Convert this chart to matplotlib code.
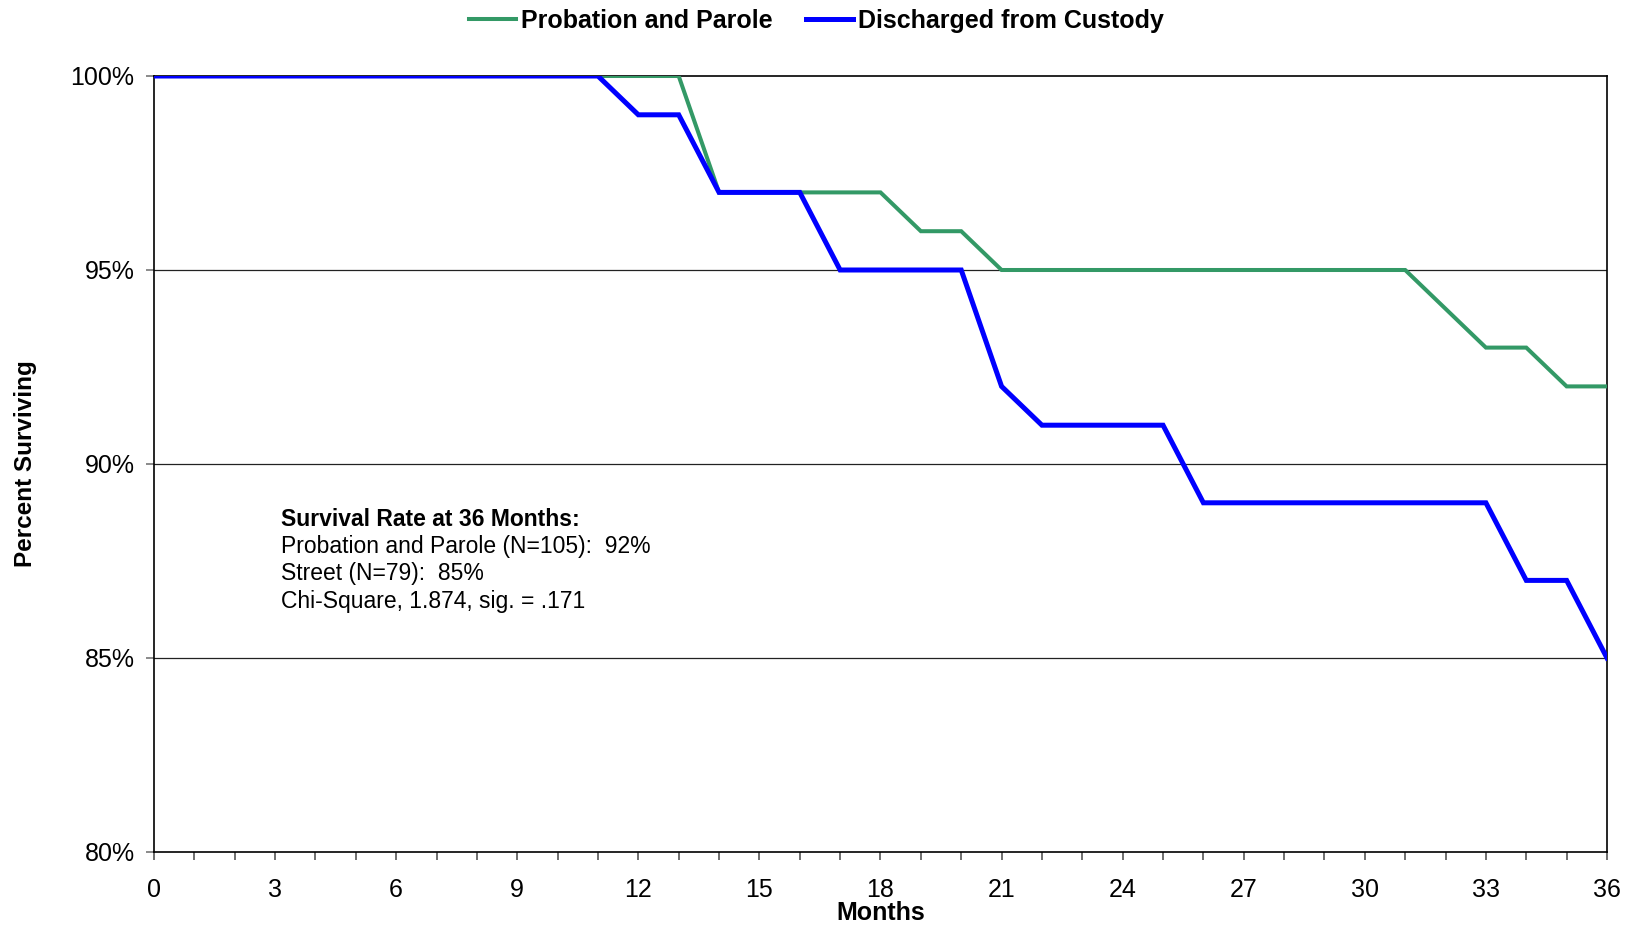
import matplotlib
matplotlib.use("Agg")
import matplotlib.pyplot as plt
from matplotlib.ticker import MultipleLocator, FuncFormatter

plt.rcParams['font.family'] = ['Liberation Sans', 'DejaVu Sans']

# survival by month, 0..36
months = list(range(0, 37))
probation_parole = [100] * 14 + [97, 97, 97, 97, 97, 96, 96] + [95] * 11 + [94, 93, 93, 92, 92]
discharged = ([100] * 12 + [99, 99, 97, 97, 97, 95, 95, 95, 95, 92, 91, 91, 91, 91]
              + [89] * 8 + [87, 87, 85])

summary_title = 'Survival Rate at 36 Months:'
summary_lines = ['Probation and Parole (N=105):  92%',
                 'Street (N=79):  85%',
                 'Chi-Square, 1.874, sig. = .171']

fig = plt.figure(figsize=(16.33, 9.25), dpi=100)
ax = fig.add_axes([154 / 1633, 1 - 852 / 925, 1453 / 1633, 776 / 925])

ax.plot(months, probation_parole, color='#339966', lw=2.9, label='Probation and Parole',
        solid_joinstyle='miter', zorder=3)
ax.plot(months, discharged, color='#0000FF', lw=3.6, label='Discharged from Custody',
        solid_joinstyle='miter', zorder=4)

ax.set_xlim(0, 36)
ax.set_ylim(80, 100)
ax.xaxis.set_major_locator(MultipleLocator(3))
ax.xaxis.set_minor_locator(MultipleLocator(1))
ax.yaxis.set_major_locator(MultipleLocator(5))
ax.yaxis.set_major_formatter(FuncFormatter(lambda v, p: f'{v:.0f}%'))

for y in (85, 90, 95):
    ax.axhline(y, color='#222222', lw=0.9, zorder=1)

for s in ax.spines.values():
    s.set_color('black')
    s.set_linewidth(1.2)

ax.tick_params(axis='x', which='both', direction='out', length=6, width=1.2,
               color='#555555', labelsize=18, pad=13)
ax.tick_params(axis='y', direction='out', length=6, width=1.2,
               color='#777777', labelsize=18, pad=8)

ax.set_xlabel('Months', fontsize=18, fontweight='bold', labelpad=-1)
ax.set_ylabel('Percent Surviving', fontsize=17.5, fontweight='bold', labelpad=24)

ax.text(0.0874, 0.429, summary_title, transform=ax.transAxes, fontsize=16.5,
        fontweight='bold', va='center', ha='left')
ax.text(0.0874, 0.409, '\n'.join(summary_lines), transform=ax.transAxes, fontsize=16.5,
        va='top', ha='left', linespacing=1.25)

fig.legend(loc='upper center', bbox_to_anchor=(0.5, 1.015), ncol=2, frameon=False,
           prop={'weight': 'bold', 'size': 18}, handlelength=1.9, handletextpad=0.2,
           columnspacing=1.3)

fig.savefig('out.png', dpi=100)
